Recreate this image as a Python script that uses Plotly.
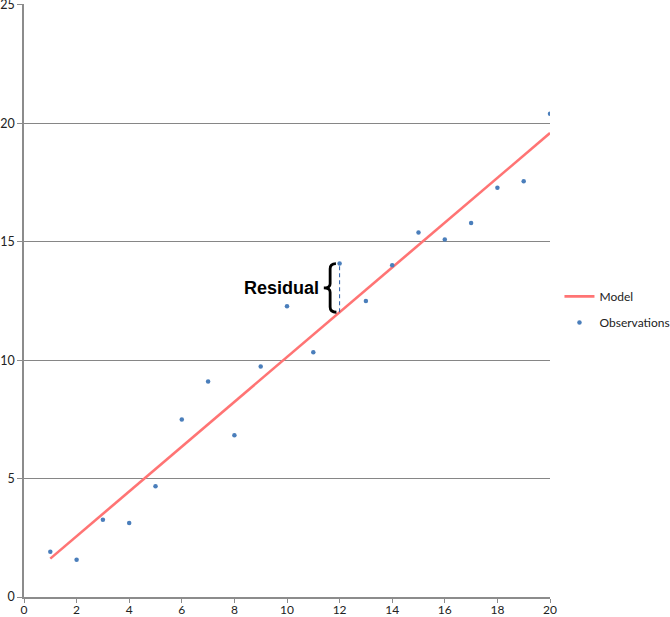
import plotly.graph_objects as go

obs_x = list(range(1, 21))
obs_y = [1.91, 1.57, 3.26, 3.13, 4.68, 7.49, 9.10, 6.83, 9.73, 12.28,
         10.33, 14.08, 12.50, 14.01, 15.39, 15.10, 15.79, 17.28, 17.56, 20.41]
model_x = [1, 20]
model_y = [1.62, 19.59]

x_ticks = list(range(0, 21, 2))
y_ticks = list(range(0, 26, 5))

resid_x = 12
resid_obs = obs_y[obs_x.index(resid_x)]
slope = (model_y[1] - model_y[0]) / (model_x[1] - model_x[0])
resid_model = model_y[0] + slope * (resid_x - model_x[0])

fig = go.Figure()
fig.add_trace(go.Scatter(x=model_x, y=model_y, mode="lines", name="Model",
                         legendgroup="a",
                         line=dict(color="#FF7474", width=2.6)))
fig.add_trace(go.Scatter(x=obs_x, y=obs_y, mode="markers", name="Observations",
                         legendgroup="b",
                         marker=dict(color="#4A7EBB", size=4.5)))

# dashed residual line
fig.add_shape(type="line", xref="x", yref="y", x0=resid_x, x1=resid_x,
              y0=resid_model, y1=resid_obs,
              line=dict(color="#2A5DA8", width=1, dash="4px,3px"))

# curly bracket
xr = resid_x - 0.14
xv = resid_x - 0.36
xt = resid_x - 0.60
top = resid_obs
bot = resid_model
mid = (top + bot) / 2
path = (f"M {xr},{top} Q {xv},{top} {xv},{top-0.22} "
        f"L {xv},{mid+0.18} Q {xv},{mid} {xt},{mid} "
        f"Q {xv},{mid} {xv},{mid-0.18} "
        f"L {xv},{bot+0.22} Q {xv},{bot} {xr+0.02},{bot}")
fig.add_shape(type="path", xref="x", yref="y", path=path,
              line=dict(color="black", width=2.8))

fig.add_annotation(x=xt - 0.12, y=mid, xref="x", yref="y", text="<b>Residual</b>",
                   showarrow=False, xanchor="right", yanchor="middle",
                   font=dict(family="Liberation Sans", size=18, color="black"))

fig.update_layout(
    width=670, height=617,
    margin=dict(l=24, r=120, t=4, b=20, autoexpand=False),
    paper_bgcolor="white", plot_bgcolor="white",
    font=dict(family="Lato", size=12, color="#222222"),
    showlegend=True,
    legend=dict(x=1.018, y=0.485, xanchor="left", yanchor="middle",
                font=dict(family="Lato", size=12, color="#222222"),
                bgcolor="rgba(0,0,0,0)", tracegroupgap=7),
)
fig.update_xaxes(range=[0, 20], tickvals=x_ticks, showgrid=False, automargin=False,
                 showline=True, linecolor="#8C8C8C", linewidth=1.5,
                 ticks="outside", ticklen=4, tickcolor="#8C8C8C", zeroline=False,
                 ticklabelstandoff=-3, ticklabeloverflow="allow",
                 tickfont=dict(size=12))
fig.update_yaxes(range=[0, 25.04], tickvals=y_ticks, showgrid=True, automargin=False,
                 gridcolor="#868686", gridwidth=1,
                 showline=True, linecolor="#8C8C8C", linewidth=1.5,
                 ticks="outside", ticklen=5, tickcolor="#8C8C8C", zeroline=False,
                 ticklabeloverflow="allow", tickfont=dict(size=12.5))

fig.write_html("out.html", config={"displayModeBar": False},
               post_script="document.body.style.margin='0';document.body.style.overflow='hidden';")
